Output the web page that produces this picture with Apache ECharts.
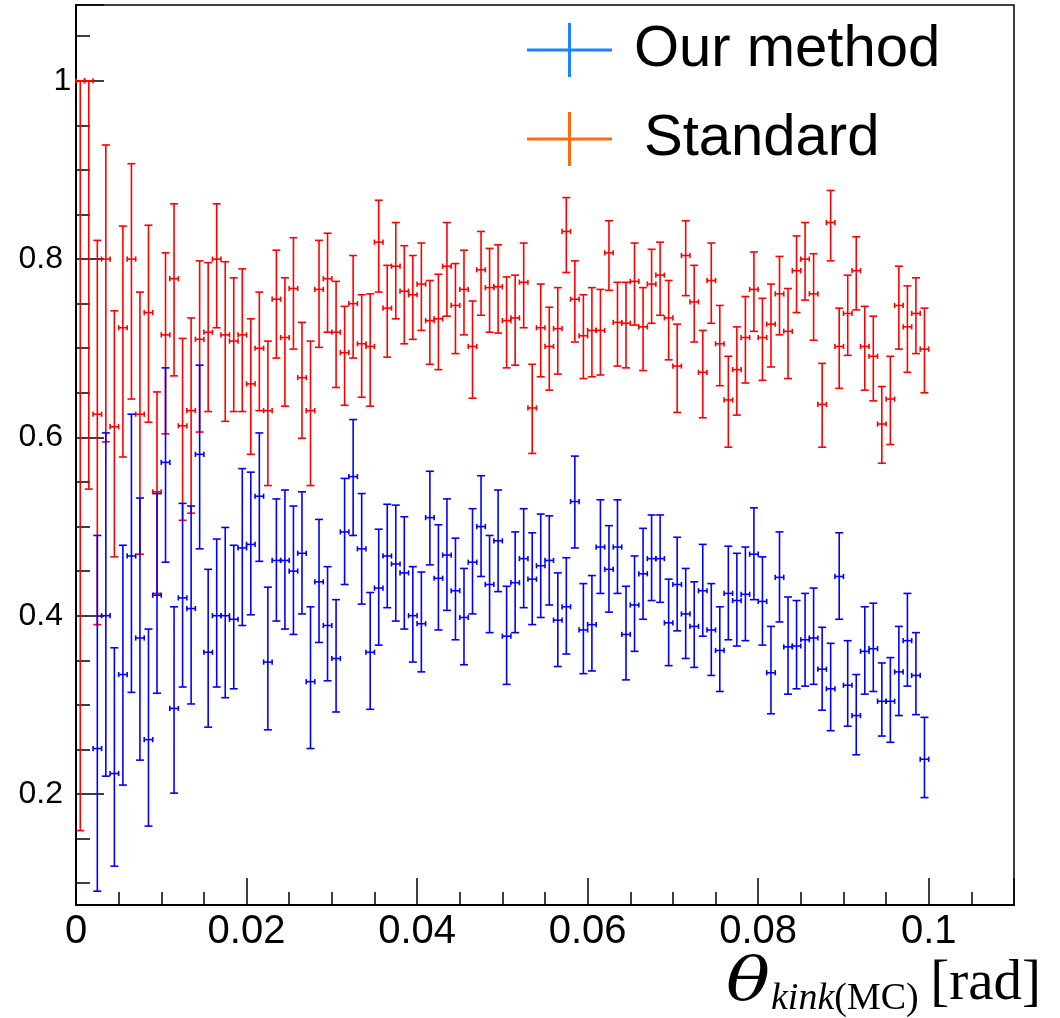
<!DOCTYPE html>
<html><head><meta charset="utf-8">
<script src="https://cdn.jsdelivr.net/npm/echarts@6/dist/echarts.min.js"></script>
<style>html,body{margin:0;padding:0;background:#fff}#c{width:1060px;height:1018px}</style>
</head><body><div id="c"></div>
<script>
// Bin centers (theta_kink, rad), bin width 0.001
const binCenters = [
0.0005,0.0015,0.0025,0.0035,0.0045,0.0055,0.0065,0.0075,0.0085,0.0095,
0.0105,0.0115,0.0125,0.0135,0.0145,0.0155,0.0165,0.0175,0.0185,0.0195,
0.0205,0.0215,0.0225,0.0235,0.0245,0.0255,0.0265,0.0275,0.0285,0.0295,
0.0305,0.0315,0.0325,0.0335,0.0345,0.0355,0.0365,0.0375,0.0385,0.0395,
0.0405,0.0415,0.0425,0.0435,0.0445,0.0455,0.0465,0.0475,0.0485,0.0495,
0.0505,0.0515,0.0525,0.0535,0.0545,0.0555,0.0565,0.0575,0.0585,0.0595,
0.0605,0.0615,0.0625,0.0635,0.0645,0.0655,0.0665,0.0675,0.0685,0.0695,
0.0705,0.0715,0.0725,0.0735,0.0745,0.0755,0.0765,0.0775,0.0785,0.0795,
0.0805,0.0815,0.0825,0.0835,0.0845,0.0855,0.0865,0.0875,0.0885,0.0895,
0.0905,0.0915,0.0925,0.0935,0.0945,0.0955,0.0965,0.0975,0.0985,0.0995];
const binHalfWidth = 0.0005;

// "Standard" (red)
const stdVal = [
1.000,1.000,0.626,0.800,0.612,0.723,0.800,0.626,0.740,0.539,
0.715,0.778,0.613,0.630,0.710,0.718,0.800,0.715,0.708,0.715,
0.660,0.700,0.630,0.755,0.712,0.767,0.667,0.630,0.766,0.778,
0.718,0.695,0.750,0.705,0.702,0.819,0.745,0.792,0.764,0.760,
0.772,0.731,0.733,0.792,0.748,0.766,0.702,0.788,0.768,0.769,
0.731,0.734,0.774,0.633,0.723,0.702,0.722,0.831,0.755,0.714,
0.720,0.720,0.807,0.729,0.728,0.775,0.724,0.772,0.782,0.734,
0.680,0.804,0.752,0.673,0.776,0.705,0.642,0.676,0.712,0.766,
0.712,0.727,0.761,0.719,0.787,0.800,0.761,0.637,0.841,0.702,
0.739,0.787,0.702,0.691,0.615,0.643,0.748,0.724,0.739,0.699];
const stdLo = [
0.159,0.542,0.390,0.595,0.466,0.578,0.643,0.469,0.617,0.425,
0.604,0.669,0.507,0.515,0.606,0.629,0.723,0.618,0.629,0.629,
0.581,0.630,0.546,0.689,0.635,0.699,0.599,0.546,0.701,0.718,
0.656,0.636,0.689,0.645,0.635,0.763,0.690,0.733,0.705,0.710,
0.720,0.682,0.676,0.736,0.694,0.715,0.644,0.737,0.718,0.717,
0.678,0.681,0.723,0.582,0.668,0.653,0.671,0.785,0.707,0.666,
0.668,0.670,0.765,0.680,0.678,0.726,0.675,0.728,0.737,0.687,
0.628,0.759,0.707,0.622,0.728,0.658,0.589,0.625,0.661,0.719,
0.664,0.679,0.715,0.666,0.740,0.754,0.709,0.589,0.798,0.655,
0.692,0.743,0.653,0.641,0.571,0.592,0.699,0.673,0.694,0.650];
const stdHi = [
1.000,1.000,0.821,0.928,0.742,0.837,0.907,0.763,0.838,0.651,
0.807,0.862,0.711,0.734,0.798,0.796,0.862,0.797,0.779,0.789,
0.733,0.763,0.708,0.810,0.779,0.824,0.729,0.708,0.821,0.829,
0.775,0.747,0.804,0.760,0.761,0.866,0.793,0.841,0.815,0.804,
0.818,0.776,0.783,0.841,0.795,0.810,0.753,0.831,0.812,0.816,
0.780,0.782,0.818,0.682,0.772,0.746,0.768,0.869,0.798,0.760,
0.768,0.766,0.843,0.774,0.774,0.818,0.768,0.811,0.819,0.776,
0.727,0.843,0.793,0.720,0.818,0.748,0.691,0.724,0.758,0.808,
0.756,0.772,0.803,0.767,0.826,0.841,0.806,0.683,0.877,0.745,
0.782,0.825,0.747,0.736,0.657,0.691,0.792,0.770,0.779,0.745];

// "Our method" (blue)
const ourVal = [
null,null,0.251,0.400,0.223,0.334,0.467,0.375,0.261,0.423,
0.572,0.296,0.420,0.408,0.581,0.359,0.400,0.400,0.396,0.476,
0.480,0.534,0.348,0.462,0.462,0.450,0.470,0.326,0.438,0.389,
0.352,0.494,0.556,0.475,0.359,0.431,0.467,0.458,0.448,0.400,
0.391,0.510,0.442,0.468,0.428,0.398,0.460,0.500,0.435,0.484,
0.377,0.437,0.464,0.441,0.456,0.462,0.395,0.410,0.528,0.384,
0.390,0.477,0.452,0.477,0.379,0.412,0.447,0.464,0.464,0.392,
0.435,0.402,0.388,0.428,0.384,0.361,0.425,0.417,0.424,0.469,
0.416,0.336,0.443,0.365,0.366,0.373,0.375,0.340,0.318,0.444,
0.322,0.288,0.360,0.363,0.304,0.304,0.337,0.372,0.333,0.239];
const ourLo = [
null,null,0.091,0.220,0.119,0.210,0.314,0.238,0.164,0.313,
0.460,0.201,0.320,0.301,0.475,0.275,0.320,0.308,0.318,0.389,
0.401,0.461,0.272,0.394,0.385,0.379,0.402,0.251,0.370,0.327,
0.292,0.435,0.490,0.413,0.295,0.367,0.409,0.394,0.385,0.348,
0.337,0.457,0.384,0.406,0.373,0.345,0.402,0.444,0.381,0.427,
0.323,0.381,0.409,0.390,0.398,0.412,0.343,0.357,0.476,0.335,
0.338,0.425,0.404,0.425,0.328,0.360,0.396,0.417,0.415,0.344,
0.383,0.352,0.342,0.377,0.333,0.315,0.373,0.366,0.372,0.418,
0.367,0.290,0.393,0.312,0.318,0.321,0.323,0.294,0.271,0.396,
0.276,0.244,0.312,0.315,0.265,0.258,0.288,0.321,0.289,0.196];
const ourHi = [
null,null,0.490,0.605,0.364,0.479,0.626,0.532,0.385,0.537,
0.678,0.410,0.526,0.523,0.681,0.452,0.486,0.499,0.479,0.565,
0.561,0.605,0.432,0.531,0.541,0.523,0.539,0.410,0.508,0.455,
0.418,0.554,0.620,0.537,0.426,0.497,0.525,0.524,0.511,0.455,
0.449,0.562,0.502,0.531,0.487,0.453,0.520,0.557,0.490,0.541,
0.433,0.494,0.520,0.493,0.514,0.512,0.448,0.465,0.579,0.436,
0.445,0.530,0.501,0.530,0.433,0.467,0.498,0.513,0.513,0.441,
0.488,0.453,0.438,0.480,0.436,0.410,0.478,0.470,0.477,0.521,
0.466,0.388,0.494,0.421,0.417,0.425,0.431,0.387,0.369,0.493,
0.372,0.334,0.410,0.414,0.347,0.353,0.388,0.425,0.381,0.286];

const seriesNames = ['Our method', 'Standard'];
const legendColors = ['#1a84ff', '#ff6a0a'];
const markColors = ['#0000ff', '#ff0000'];

function buildData(val, lo, hi) {
  const out = [];
  for (let i = 0; i < binCenters.length; i++) {
    if (val[i] == null) continue;
    out.push([binCenters[i], val[i], lo[i], hi[i]]);
  }
  return out;
}

function makeRender(color) {
  return function (params, api) {
    const x = api.value(0), v = api.value(1), lo = api.value(2), hi = api.value(3);
    const c = api.coord([x, v]);
    const cl = api.coord([x - binHalfWidth, v]);
    const cr = api.coord([x + binHalfWidth, v]);
    const pLo = api.coord([x, lo]);
    const pHi = api.coord([x, hi]);
    const cap = 4, tick = 2.6;
    const segs = [
      [pLo[0], pLo[1], pHi[0], pHi[1]],
      [pLo[0] - cap, pLo[1], pLo[0] + cap, pLo[1]],
      [pHi[0] - cap, pHi[1], pHi[0] + cap, pHi[1]],
      [cl[0], c[1], cr[0], c[1]],
      [cl[0], c[1] - tick, cl[0], c[1] + tick],
      [cr[0], c[1] - tick, cr[0], c[1] + tick]
    ];
    return {
      type: 'group',
      children: segs.map(s => ({
        type: 'line',
        shape: { x1: s[0], y1: s[1], x2: s[2], y2: s[3] },
        style: { stroke: color, lineWidth: 1.6, fill: null }
      }))
    };
  };
}

function fmt(v) { return String(parseFloat(v.toFixed(4))); }
const crossIcon = 'path://M0,25.5H41V0H44V25.5H85V28.5H44V54H41V28.5H0Z';

const chart = echarts.init(document.getElementById('c'), null, { renderer: 'canvas' });
chart.setOption({
  animation: false,
  backgroundColor: '#fff',
  grid: { left: 76, right: 46, top: 5, bottom: 113, show: true, borderColor: '#000', borderWidth: 1.5, backgroundColor: 'transparent' },
  xAxis: {
    type: 'value', min: 0, max: 0.11, interval: 0.02,
    axisLine: { show: true, onZero: false, lineStyle: { color: '#000', width: 2 } },
    axisTick: { show: true, inside: true, length: 27, lineStyle: { color: '#000', width: 1.5 } },
    minorTick: { show: true, splitNumber: 4, length: 13, lineStyle: { color: '#000', width: 1.5 } },
    splitLine: { show: false }, minorSplitLine: { show: false },
    axisLabel: {
      color: '#000', fontSize: 40, fontFamily: 'Liberation Sans', margin: 7,
      formatter: v => (v > 0.1001 ? '' : fmt(v))
    }
  },
  yAxis: {
    type: 'value', min: 0.0755, max: 1.085, splitNumber: 5, minInterval: 0.2, maxInterval: 0.2,
    axisLine: { show: true, onZero: false, lineStyle: { color: '#000', width: 2 } },
    axisTick: { show: true, inside: true, length: 28, lineStyle: { color: '#000', width: 1.5 } },
    minorTick: { show: true, splitNumber: 4, length: 14, lineStyle: { color: '#000', width: 1.5 } },
    splitLine: { show: false }, minorSplitLine: { show: false },
    axisLabel: {
      color: '#000', fontSize: 32, fontFamily: 'Liberation Sans', margin: 13,
      showMinLabel: false, showMaxLabel: false,
      formatter: v => (Math.abs(v / 0.2 - Math.round(v / 0.2)) > 1e-6 ? '' : (Math.abs(v - 1) < 1e-6 ? '{one|1}' : fmt(v))),
      rich: { one: { fontSize: 32, fontFamily: 'Liberation Sans', color: '#000', width: 9.5, align: 'left' } }
    }
  },
  legend: {
    orient: 'vertical', left: 527, top: 21, padding: 0, itemGap: 31,
    itemWidth: 85, itemHeight: 54,
    data: [
      { name: 'Our method', icon: crossIcon, itemStyle: { color: legendColors[0] } },
      { name: 'Standard', icon: crossIcon, itemStyle: { color: legendColors[1] } }
    ],
    formatter: name => (name === 'Standard' ? '{s|' + name + '}' : '{o|' + name + '}'),
    textStyle: {
      fontSize: 58, fontFamily: 'Liberation Sans', color: '#000',
      rich: {
        o: { fontSize: 58, fontFamily: 'Liberation Sans', color: '#000', padding: [0, 0, 0, 17] },
        s: { fontSize: 58, fontFamily: 'Liberation Sans', color: '#000', padding: [0, 0, 0, 27] }
      }
    }
  },
  graphic: [
    { type: 'text', x: 726, y: 984, scaleX: 1.22, style: { text: 'θ', font: 'italic 60px "DejaVu Serif"', fill: '#000', verticalAlign: 'middle', align: 'left' } },
    { type: 'text', x: 771, y: 999, style: { text: '{i|kink}{n|(MC)}', rich: { i: { font: 'italic 38px "Liberation Serif"', fill: '#000' }, n: { font: '38px "Liberation Serif"', fill: '#000' } }, verticalAlign: 'middle', align: 'left' } },
    { type: 'text', x: 1041, y: 984, style: { text: '[rad]', font: '57px "Liberation Serif"', fill: '#000', verticalAlign: 'middle', align: 'right' } }
  ],
  series: [
    { name: 'Standard', type: 'custom', renderItem: makeRender(markColors[1]), itemStyle: { color: legendColors[1] },
      encode: { x: 0, y: [1, 2, 3] }, data: buildData(stdVal, stdLo, stdHi), z: 2 },
    { name: 'Our method', type: 'custom', renderItem: makeRender(markColors[0]), itemStyle: { color: legendColors[0] },
      encode: { x: 0, y: [1, 2, 3] }, data: buildData(ourVal, ourLo, ourHi), z: 3 }
  ]
});
</script>
</body></html>
